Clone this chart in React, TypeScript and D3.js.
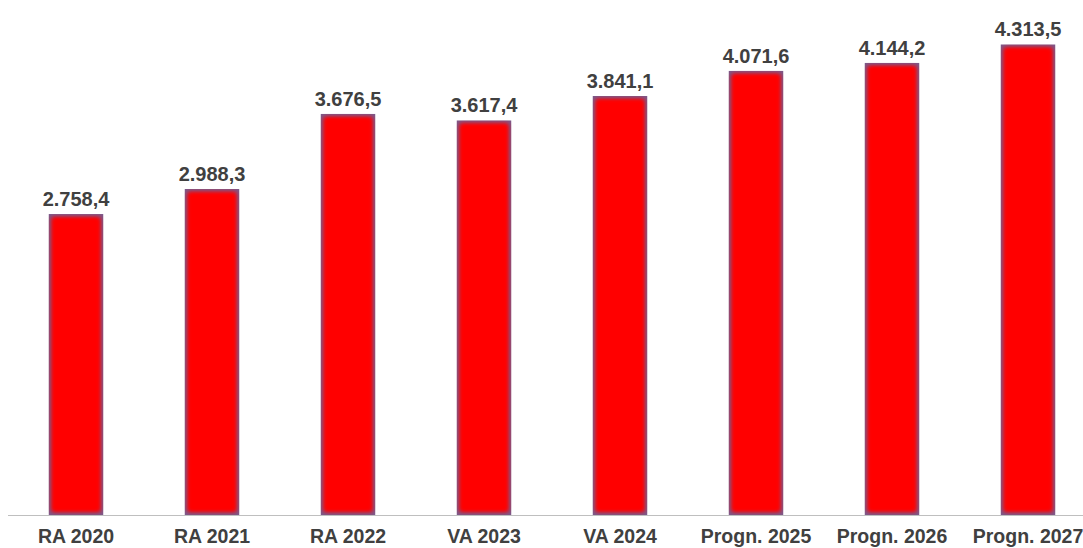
import React from "react";
import * as d3 from "d3";

const categories = ["RA 2020", "RA 2021", "RA 2022", "VA 2023", "VA 2024", "Progn. 2025", "Progn. 2026", "Progn. 2027"];
const values = [2758.4, 2988.3, 3676.5, 3617.4, 3841.1, 4071.6, 4144.2, 4313.5];

const W = 1083;
const H = 548;
const baseY = 515;

const fmt = (v: number) => {
  const s = v.toFixed(1);
  const [i, d] = s.split(".");
  const ii = i.replace(/\B(?=(\d{3})+(?!\d))/g, ".");
  return ii + "," + d;
};

export default function App() {
  const x = d3.scaleBand<string>().domain(categories).range([8, 1096]).paddingInner(0.596).paddingOuter(0.298);
  const y = d3.scaleLinear().domain([0, 4720]).range([baseY, 0]);
  const bw = x.bandwidth();
  return (
    <svg width={W} height={H} style={{ position: "absolute", left: 0, top: 0, background: "#fff" }}>
      <defs>
        <filter id="soft" x="-20%" y="-20%" width="140%" height="140%">
          <feGaussianBlur stdDeviation="2.2" />
        </filter>
        {categories.map((c, i) => (
          <clipPath id={"clip" + i} key={c}>
            <rect x={x(c)} y={y(values[i])} width={bw} height={baseY - y(values[i])} />
          </clipPath>
        ))}
      </defs>
      <line x1={8} x2={W} y1={baseY + 0.5} y2={baseY + 0.5} stroke="#bfbfbf" strokeWidth={1} />
      {categories.map((c, i) => {
        const x0 = x(c)!;
        const y0 = y(values[i]);
        const h = baseY - y0;
        return (
          <g key={c}>
            <g clipPath={`url(#clip${i})`}>
              <rect x={x0} y={y0} width={bw} height={h} fill="#7a5a8c" />
              <rect x={x0 + 3} y={y0 + 3} width={bw - 6} height={h - 6} fill="#ff0000" filter="url(#soft)" />
              <rect x={x0 + 5} y={y0 + 5} width={bw - 10} height={h - 10} fill="#ff0000" filter="url(#soft)" />
            </g>
            <text
              x={x0 + bw / 2}
              y={y0 - 8}
              textAnchor="middle"
              fontFamily="Liberation Sans, Arial, sans-serif"
              fontWeight="bold"
              fontSize={20}
              fill="#404040"
            >
              {fmt(values[i])}
            </text>
            <text
              x={x0 + bw / 2}
              y={543}
              textAnchor="middle"
              fontFamily="Liberation Sans, Arial, sans-serif"
              fontWeight="bold"
              fontSize={19.5}
              fill="#404040"
            >
              {c}
            </text>
          </g>
        );
      })}
    </svg>
  );
}
